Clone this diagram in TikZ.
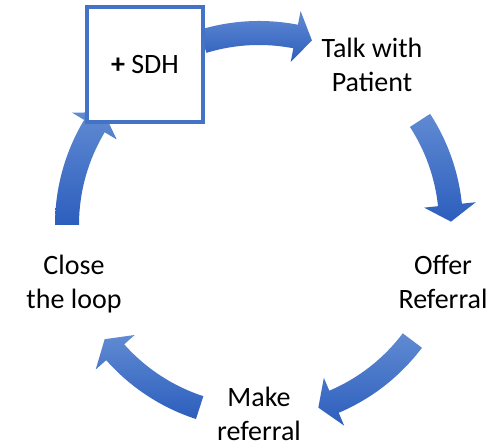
\documentclass[tikz,border=0pt]{standalone}
\usepackage{fontspec}
\setmainfont{Carlito}
\definecolor{boxblue}{RGB}{68,114,196}
\definecolor{arrtop}{RGB}{96,138,210}
\definecolor{arrbot}{RGB}{44,94,189}
\tikzset{
  lbl/.style={align=center, inner sep=0pt, font=\fontsize{28}{34}\selectfont},
  sdhbox/.style={draw=boxblue, line width=3.5pt, fill=white, minimum width=116pt,
    minimum height=115pt, inner sep=0pt, font=\fontsize{28}{34}\selectfont},
  cyclearrow/.style={top color=arrtop, bottom color=arrbot, draw=none}
}
\newcommand{\cycarrow}[2]{%
  \path[cyclearrow] (#1:204pt) arc[start angle=#1, end angle=#2+5, radius=204pt]
    -- (#2+5:218pt) -- (#2:192pt) -- (#2+5:166pt) -- (#2+5:180pt)
    arc[start angle=#2+5, end angle=#1, radius=180pt] -- cycle;
}
\begin{document}
\begin{tikzpicture}[x=1pt,y=1pt]
\useasboundingbox (0,0) rectangle (495,446);
\begin{scope}[shift={(259,221)}]
  \cycarrow{107}{74}
  \cycarrow{33}{1}
  \cycarrow{-37}{-72}
  \cycarrow{-108}{-143.5}
  \cycarrow{180}{144}
\end{scope}
\node[sdhbox] (sdh) at (145,381.5) {\textbf{+} SDH};
\node[lbl] (talk) at (372,381.5) {Talk with\\Patient};
\node[lbl] (offer) at (443,164.5) {Offer\\Referral};
\node[lbl] (make) at (259,32.5) {Make\\referral};
\node[lbl] (close) at (74,162) {Close\\the loop};
\end{tikzpicture}
\end{document}
